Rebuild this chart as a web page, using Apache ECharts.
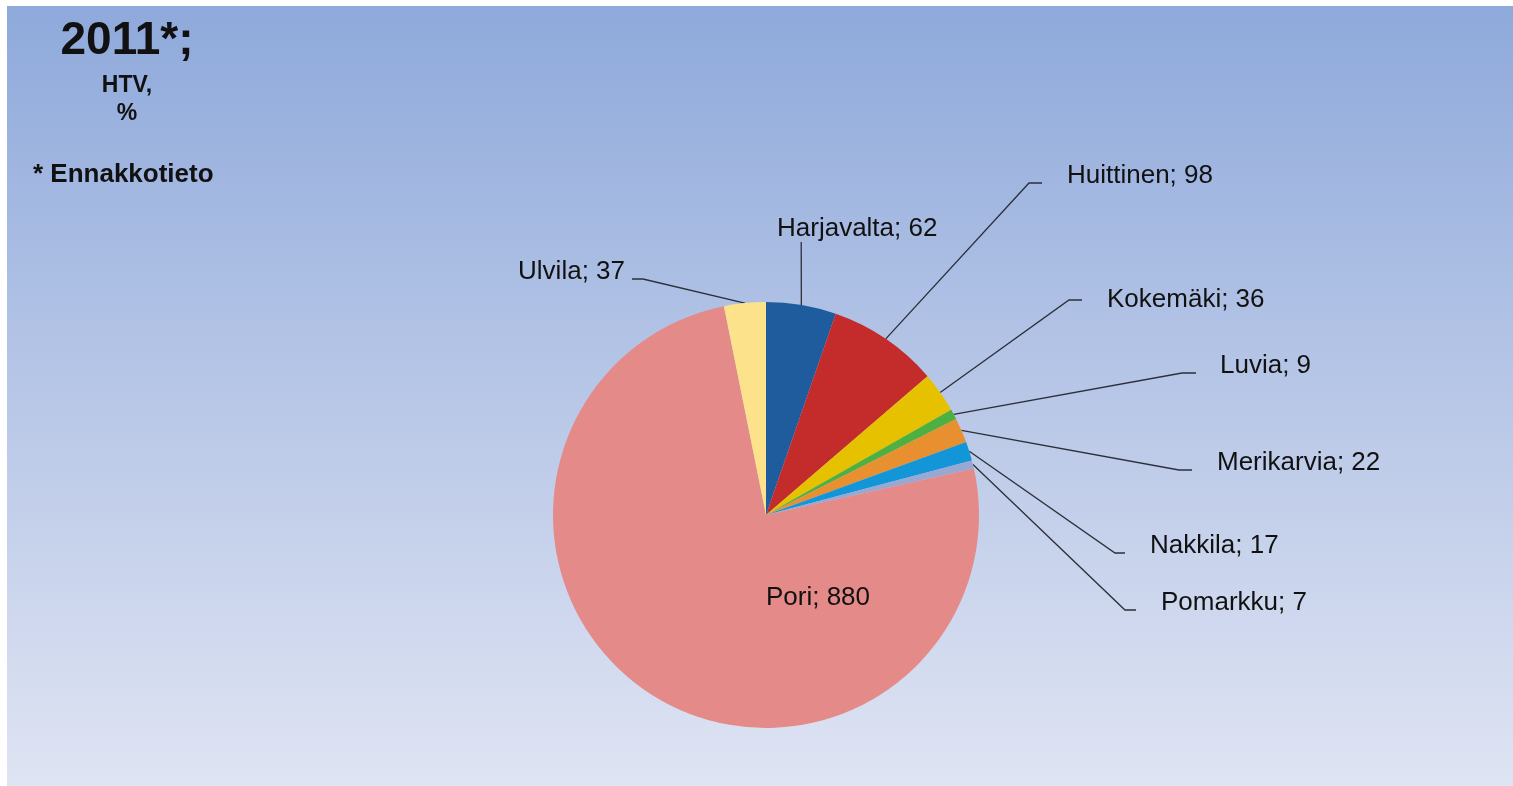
<!DOCTYPE html>
<html>
<head>
<meta charset="utf-8">
<title>2011 HTV</title>
<script src="https://cdn.jsdelivr.net/npm/echarts@6/dist/echarts.min.js"></script>
<style>
  html, body { margin: 0; padding: 0; background: #fff; }
  #chart { width: 1513px; height: 786px; }
</style>
</head>
<body>
<div id="chart"></div>
<script>
// values (HTV) per municipality, clockwise from 12 o'clock
const municipalities = ['Harjavalta', 'Huittinen', 'Kokemäki', 'Luvia', 'Merikarvia', 'Nakkila', 'Pomarkku', 'Pori', 'Ulvila']
const htv = [62, 98, 36, 9, 22, 17, 7, 880, 37]
const sliceColors = ['#1E5C9E', '#C42B2B', '#E5C100', '#4DB040', '#E8902F', '#1396D7', '#98A8D2', '#E48A88', '#FDE28C']

// label placement: [text x, text middle y, align, padding [t, r, b, l], length2]
const labelSpots = [
  [777, 227, 'left', [0, 0, 0, 112], 1],
  [1067, 174, 'left', [0, 0, 14, 25], 13],
  [1107, 298, 'left', [0, 0, 0, 25], 13],
  [1220, 364, 'left', [0, 0, 14, 24], 14],
  [1217, 461, 'left', [0, 0, 14, 25], 13],
  [1150, 544, 'left', [0, 0, 14, 25], 10],
  [1161, 601, 'left', [0, 0, 14, 25], 11],
  [818, 596, 'center', [0, 0, 0, 0], 0],
  [625, 270, 'right', [0, 7, 14, 0], 11]
]

const FONT = '"Liberation Sans", Arial, sans-serif'
const LABEL_SIZE = 26

const chart = echarts.init(document.getElementById('chart'))

const pieData = municipalities.map((name, i) => {
  const spot = labelSpots[i]
  return {
    name: name,
    value: htv[i],
    itemStyle: { color: sliceColors[i] },
    label: { padding: spot[3] },
    labelLine: { show: name !== 'Pori', length2: spot[4] }
  }
})

chart.setOption({
  animation: false,
  backgroundColor: '#fff',
  graphic: [
    {
      type: 'rect',
      z: -10,
      silent: true,
      shape: { x: 7, y: 6, width: 1506, height: 780 },
      style: {
        fill: {
          type: 'linear', x: 0, y: 0, x2: 0, y2: 1,
          colorStops: [
            { offset: 0, color: '#8EA9DB' },
            { offset: 0.5, color: '#B8C7E7' },
            { offset: 1, color: '#DFE4F3' }
          ]
        }
      }
    },
    {
      type: 'text', silent: true,
      style: { text: '2011*;', x: 127, y: 41, align: 'center', verticalAlign: 'middle', font: 'bold 46px ' + FONT, fill: '#111' }
    },
    {
      type: 'text', silent: true,
      style: { text: 'HTV,', x: 127, y: 86, align: 'center', verticalAlign: 'middle', font: 'bold 23px ' + FONT, fill: '#111' }
    },
    {
      type: 'text', silent: true,
      style: { text: '%', x: 127, y: 114, align: 'center', verticalAlign: 'middle', font: 'bold 23px ' + FONT, fill: '#111' }
    },
    {
      type: 'text', silent: true,
      style: { text: '* Ennakkotieto', x: 33, y: 175, align: 'left', verticalAlign: 'middle', font: 'bold 26px ' + FONT, fill: '#111' }
    }
  ],
  series: [{
    type: 'pie',
    center: [766, 515],
    radius: 213,
    startAngle: 90,
    clockwise: true,
    avoidLabelOverlap: false,
    emphasis: { scale: false },
    label: {
      show: true,
      position: 'outside',
      formatter: '{b}; {c}',
      color: '#111',
      fontSize: LABEL_SIZE,
      lineHeight: LABEL_SIZE,
      fontFamily: FONT,
      backgroundColor: 'transparent'
    },
    labelLine: {
      show: true,
      length: 15,
      lineStyle: { color: '#2b2f3a', width: 1.3 }
    },
    labelLayout: function (p) {
      const s = labelSpots[p.dataIndex]
      const pad = s[3]
      let x = s[0]
      if (s[2] === 'left') x = s[0] - pad[3]
      if (s[2] === 'right') x = s[0] + pad[1]
      return {
        x: x,
        y: s[1] + 2 - LABEL_SIZE / 2 - pad[0],
        align: s[2],
        verticalAlign: 'top'
      }
    },
    data: pieData
  }]
})
</script>
</body>
</html>
